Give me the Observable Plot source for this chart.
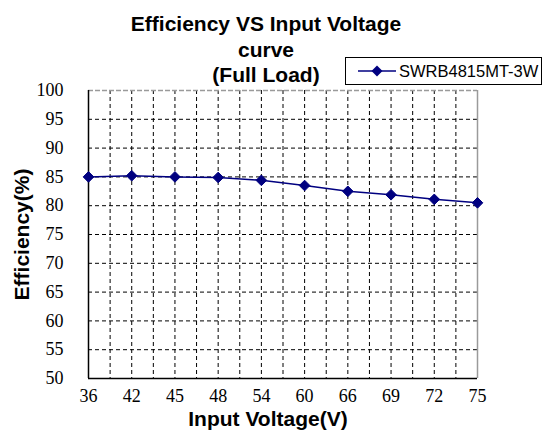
<!DOCTYPE html>
<html>
<head>
<meta charset="utf-8">
<script src="https://cdn.jsdelivr.net/npm/d3@7"></script>
<script src="https://cdn.jsdelivr.net/npm/@observablehq/plot@0.6"></script>
<style>
  html, body { margin: 0; padding: 0; background: white; }
  #wrap { position: relative; width: 544px; height: 435px; }
  #legend {
    position: absolute; left: 345px; top: 57px; width: 197px; height: 28px;
    border: 1px solid black; background: white; box-sizing: border-box;
    display: flex; align-items: center;
    font-family: "Liberation Sans", Arial, sans-serif; font-size: 16.5px; color: black;
  }
  #legend svg { margin-left: 12px; margin-right: 3px; }
</style>
</head>
<body>
<div id="wrap"></div>
<script>
const volts = ["36", "42", "45", "48", "54", "60", "66", "69", "72", "75"];
const efficiency = [85.0, 85.2, 85.0, 84.9, 84.4, 83.5, 82.5, 81.9, 81.1, 80.5];
const yTicks = [50, 55, 60, 65, 70, 75, 80, 85, 90, 95, 100];
const seriesName = "SWRB4815MT-3W";
const titleText = "Efficiency VS Input Voltage\ncurve\n(Full Load)";
const xLabel = "Input Voltage(V)";
const yLabel = "Efficiency(%)";

const data = volts.map((v, i) => ({i, v, e: efficiency[i]}));
const n = volts.length;
const halfSteps = d3.range(1, 2 * (n - 1)).map(k => k / 2);
const navy = "#000080";
const serifFont = "Liberation Serif";
const bold = {fontFamily: "Liberation Sans", fontWeight: "bold", fontSize: 21, fill: "black"};

const chart = Plot.plot({
  width: 544,
  height: 435,
  marginTop: 90,
  marginRight: 67,
  marginBottom: 57,
  marginLeft: 88,
  style: {background: "white", overflow: "visible"},
  x: {type: "linear", domain: [0, n - 1]},
  y: {domain: [yTicks[0], yTicks[yTicks.length - 1]]},
  marks: [
    Plot.ruleX(halfSteps, {stroke: "black", strokeDasharray: "4,3", strokeWidth: 1}),
    Plot.ruleY(yTicks.slice(1, -1), {stroke: "black", strokeDasharray: "4,3", strokeWidth: 1}),
    Plot.ruleY([yTicks[yTicks.length - 1]], {stroke: "#9a9a9a", strokeDasharray: "5,2", strokeWidth: 1.5}),
    Plot.ruleX([n - 1], {stroke: "#9a9a9a", strokeWidth: 1.5}),
    Plot.ruleX([0], {stroke: "black", strokeWidth: 1.5}),
    Plot.ruleY([yTicks[0]], {stroke: "black", strokeWidth: 1.5}),
    Plot.line(data, {x: "i", y: "e", stroke: navy, strokeWidth: 1.5}),
    Plot.dot(data, {x: "i", y: "e", symbol: "diamond2", r: 4.8, fill: navy, stroke: navy, strokeWidth: 1}),
    Plot.axisY(yTicks, {tickSize: 0, tickPadding: 25, fontSize: 18, fontFamily: serifFont, label: null}),
    Plot.axisX(d3.range(n), {tickSize: 0, tickPadding: 11, fontSize: 18, fontFamily: serifFont, tickFormat: i => volts[i], label: null}),
    Plot.text([titleText], {frameAnchor: "top", lineAnchor: "top", textAnchor: "middle", dy: -77, dx: -17, lineHeight: 1.2, ...bold}),
    Plot.text([xLabel], {frameAnchor: "bottom", lineAnchor: "middle", textAnchor: "middle", dy: 41, dx: -15, ...bold}),
    Plot.text([yLabel], {frameAnchor: "left", lineAnchor: "middle", textAnchor: "middle", dx: -66, rotate: -90, ...bold})
  ]
});

const wrap = document.getElementById("wrap");
wrap.appendChild(chart);

const legend = document.createElement("div");
legend.id = "legend";
legend.innerHTML = `<svg width="38" height="12" viewBox="0 0 38 12">
  <line x1="0" y1="6" x2="38" y2="6" stroke="${navy}" stroke-width="1.5"></line>
  <path d="M19,0.5 L24.5,6 L19,11.5 L13.5,6 Z" fill="${navy}"></path>
</svg><span></span>`;
legend.querySelector("span").textContent = seriesName;
wrap.appendChild(legend);
</script>
</body>
</html>
